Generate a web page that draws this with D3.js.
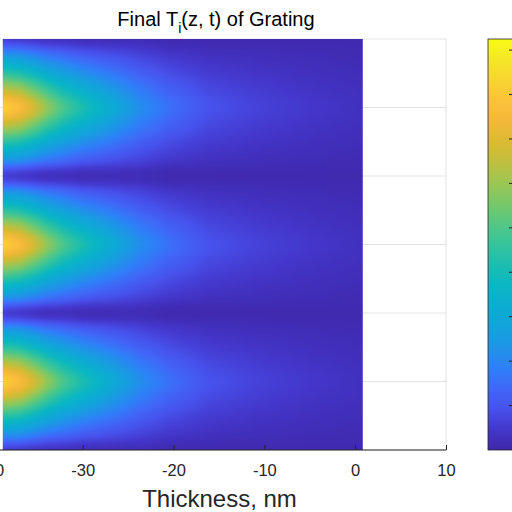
<!DOCTYPE html>
<html>
<head>
<meta charset="utf-8">
<script src="https://cdn.jsdelivr.net/npm/d3@7"></script>
<style>
  body { margin: 0; background: #fff; }
  svg { display: block; font-family: "Liberation Sans", Arial, sans-serif; }
</style>
</head>
<body>
<div id="chart"></div>
<script>
// ---- data ----
// thickness samples (nm), left edge of image to right edge
const thicknessNm = [-38.8, -37, -35.4, -33.8, -32.1, -29.9, -27.1, -23.8, -20.5, -16.1, -10.6, -5, 0.8];

// T_i along z for the different phases of the grating period
const troughRow = [0.6, 0.5, 0.4, 0.3, 0.3, 0.2, 0.2, 0.2, 0.1, 0.1, 0.1, 0.1, 0.1];
const quarterRow = [2.5, 2.4, 2.06, 1.73, 1.5, 1.21, 0.98, 0.72, 0.48, 0.32, 0.24, 0.19, 0.15];
const halfRow = [4.5, 4.25, 3.73, 3.16, 2.7, 2.23, 1.76, 1.24, 0.85, 0.54, 0.39, 0.28, 0.2];
const threeQRow = [6.6, 6.26, 5.52, 4.7, 3.98, 3.32, 2.6, 1.8, 1.26, 0.78, 0.54, 0.38, 0.26];
const peakRow = [8.2, 7.7, 6.8, 5.8, 4.9, 4.1, 3.2, 2.2, 1.55, 0.95, 0.65, 0.45, 0.3];

// vertical sample positions and the row seen at each of them
const tRows = [0, 0.25, 0.5, 0.75, 1, 1.25, 1.5, 1.75, 2, 2.25, 2.5, 2.75, 3,
  3.25, 3.5, 3.75, 4, 4.25, 4.5, 4.75, 5, 5.25, 5.5, 5.75, 6];
const rowValues = [
  troughRow, quarterRow, halfRow, threeQRow, peakRow, threeQRow, halfRow, quarterRow,
  troughRow, quarterRow, halfRow, threeQRow, peakRow, threeQRow, halfRow, quarterRow,
  troughRow, quarterRow, halfRow, threeQRow, peakRow, threeQRow, halfRow, quarterRow,
  troughRow
];

const xTicks = [-40, -30, -20, -10, 0, 10];
const yTicks = [0, 1, 2, 3, 4, 5, 6];
const cbarTicks = [1, 2, 3, 4, 5, 6, 7, 8, 9];
const cbarMax = 9.25;

// ---- parula-like colormap (stops every 0.05) ----
const parulaStops = [
  '#3e26a8', '#4437cc', '#4751ec', '#4068f8', '#2e80f8', '#1f94e8', '#13a3dc', '#0badd0',
  '#0bb6c4', '#1bbdb0', '#35c49c', '#53c785', '#78c86a', '#9cc653', '#c0bf3e', '#dcba33',
  '#f3b73a', '#fcc13a', '#f8d531', '#f4e628', '#f9fb15'
];
const parula = d3.piecewise(d3.interpolateRgb, parulaStops);
const color = (v) => parula(Math.max(0, Math.min(1, v / cbarMax)));

// ---- layout ----
const width = 512;
const height = 512;
const x = d3.scaleLinear().domain([-30, 10]).range([82.7, 446]);
const xLeft = -42;
const y = d3.scaleLinear().domain([0, 6]).range([39, 450]);
const cb = { x: 488, w: 26 };
const cy = d3.scaleLinear().domain([0, cbarMax]).range([450, 39]);
const ink = '#262626';

const svg = d3.select('#chart').append('svg')
  .attr('width', width)
  .attr('height', height);

// grid (under the image)
const grid = svg.append('g').attr('stroke', '#e3e3e3').attr('stroke-width', 1);
grid.selectAll('.gx').data(xTicks).join('line')
  .attr('x1', d => x(d)).attr('x2', d => x(d))
  .attr('y1', y(0)).attr('y2', y(6));
grid.selectAll('.gy').data(yTicks).join('line')
  .attr('x1', x(xLeft)).attr('x2', x(10))
  .attr('y1', d => y(d)).attr('y2', d => y(d));

// ---- heat map image ----
function catmull(p0, p1, p2, p3, t) {
  return 0.5 * (2 * p1 + (-p0 + p2) * t + (2 * p0 - 5 * p1 + 4 * p2 - p3) * t * t +
    (-p0 + 3 * p1 - 3 * p2 + p3) * t * t * t);
}
function rowAt(row, z) {
  let i = d3.bisectRight(thicknessNm, z) - 1;
  i = Math.max(0, Math.min(thicknessNm.length - 2, i));
  const f = Math.max(0, Math.min(1, (z - thicknessNm[i]) / (thicknessNm[i + 1] - thicknessNm[i])));
  return row[i] * (1 - f) + row[i + 1] * f;
}
function sample(z, t) {
  let j = d3.bisectRight(tRows, t) - 1;
  j = Math.max(0, Math.min(tRows.length - 2, j));
  const f = (t - tRows[j]) / (tRows[j + 1] - tRows[j]);
  const r = (k) => rowAt(rowValues[Math.max(0, Math.min(tRows.length - 1, k))], z);
  return catmull(r(j - 1), r(j), r(j + 1), r(j + 2), f);
}

const ix0 = x(thicknessNm[0]);
const ix1 = x(thicknessNm[thicknessNm.length - 1]);
const iw = Math.round(ix1 - ix0);
const ih = Math.round(y(6) - y(0));
const canvas = document.createElement('canvas');
canvas.width = iw;
canvas.height = ih;
const ctx = canvas.getContext('2d');
const img = ctx.createImageData(iw, ih);
for (let py = 0; py < ih; py++) {
  const t = y.invert(y(0) + py + 0.5);
  for (let px = 0; px < iw; px++) {
    const z = x.invert(ix0 + px + 0.5);
    const c = d3.rgb(color(sample(z, t)));
    const k = (py * iw + px) * 4;
    img.data[k] = c.r;
    img.data[k + 1] = c.g;
    img.data[k + 2] = c.b;
    img.data[k + 3] = 255;
  }
}
ctx.putImageData(img, 0, 0);
svg.append('image')
  .attr('x', ix0).attr('y', y(0))
  .attr('width', iw).attr('height', ih)
  .attr('preserveAspectRatio', 'none')
  .attr('href', canvas.toDataURL());

// ---- x axis ----
const xAxis = svg.append('g')
  .attr('transform', `translate(0,${y(6)})`)
  .call(d3.axisBottom(x).tickValues(xTicks).tickSizeInner(-5).tickSizeOuter(0).tickPadding(14));
xAxis.select('.domain').attr('stroke', ink).attr('d', `M${x(xLeft)},0H${x(10)}`);
xAxis.selectAll('.tick line').attr('stroke', ink);
xAxis.selectAll('.tick text')
  .attr('fill', ink)
  .attr('font-size', 16.5)
  .attr('font-family', '"Liberation Sans", Arial, sans-serif')
  .text(d => d);

svg.append('text')
  .attr('x', 219.5).attr('y', 506.5)
  .attr('text-anchor', 'middle')
  .attr('font-size', 24)
  .attr('fill', ink)
  .text('Thickness, nm');

// ---- title ----
const title = svg.append('text')
  .attr('x', 216).attr('y', 25.7)
  .attr('text-anchor', 'middle')
  .attr('font-size', 20)
  .attr('fill', '#000');
title.append('tspan').text('Final T');
title.append('tspan').attr('font-size', 14).attr('dy', 7).text('i');
title.append('tspan').attr('dy', -7).text('(z, t) of Grating');

// ---- colorbar ----
const defs = svg.append('defs');
const grad = defs.append('linearGradient')
  .attr('id', 'parula').attr('x1', 0).attr('x2', 0).attr('y1', 1).attr('y2', 0);
grad.selectAll('stop').data(d3.range(0, 1.0001, 1 / 40)).join('stop')
  .attr('offset', d => d)
  .attr('stop-color', d => parula(d));

svg.append('rect')
  .attr('x', cb.x).attr('y', cy(cbarMax))
  .attr('width', cb.w).attr('height', cy(0) - cy(cbarMax))
  .attr('fill', 'url(#parula)')
  .attr('stroke', ink).attr('stroke-width', 0.8);

svg.append('g').selectAll('line').data(cbarTicks).join('line')
  .attr('x1', cb.x + cb.w - 5).attr('x2', cb.x + cb.w)
  .attr('y1', d => cy(d)).attr('y2', d => cy(d))
  .attr('stroke', ink).attr('stroke-width', 1);
</script>
</body>
</html>
